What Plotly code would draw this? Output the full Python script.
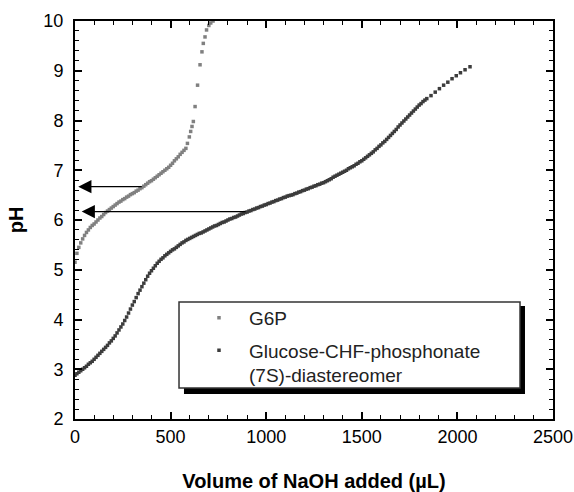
import plotly.graph_objects as go

# ---- data -------------------------------------------------------------
# G6P titration (volume uL, pH)
g6p_vol = [0, 10, 20, 30, 40, 50, 60, 70, 80, 90, 100, 110, 120, 130, 140, 150,
           160, 170, 180, 190, 200, 210, 220, 230, 240, 250, 260, 270, 280, 290,
           300, 310, 320, 330, 340, 350, 360, 370, 380, 390, 400, 410, 420, 430,
           440, 450, 460, 470, 480, 490, 500, 510, 520, 530, 540, 550, 560, 570,
           580, 588, 598, 605, 612, 619, 628, 641, 654, 664, 671, 680, 688, 700,
           710, 722]
g6p_ph = [5.15, 5.33, 5.45, 5.54, 5.62, 5.69, 5.75, 5.80, 5.85, 5.89, 5.92, 5.96,
          6.00, 6.04, 6.07, 6.11, 6.15, 6.18, 6.21, 6.24, 6.27, 6.30, 6.33, 6.36,
          6.38, 6.41, 6.43, 6.46, 6.48, 6.51, 6.53, 6.55, 6.58, 6.60, 6.63, 6.65,
          6.68, 6.71, 6.74, 6.77, 6.79, 6.82, 6.85, 6.88, 6.91, 6.94, 6.97, 7.00,
          7.03, 7.06, 7.10, 7.14, 7.19, 7.23, 7.27, 7.32, 7.36, 7.40, 7.44, 7.54,
          7.67, 7.78, 7.88, 7.98, 8.28, 8.71, 9.12, 9.38, 9.55, 9.68, 9.82, 9.91,
          9.96, 10.0]

# Glucose-CHF-phosphonate (7S)-diastereomer titration
dia_vol = list(range(0, 1850, 10)) + [1862, 1884, 1906, 1928, 1950, 1972, 1994,
                                      2016, 2040, 2066]
dia_ph = [2.88, 2.91, 2.94, 2.97, 3.00, 3.03, 3.06, 3.10, 3.13, 3.16, 3.20, 3.24,
          3.28, 3.32, 3.36, 3.40, 3.44, 3.48, 3.53, 3.57, 3.62, 3.67, 3.73, 3.79,
          3.85, 3.91, 3.98, 4.05, 4.13, 4.21, 4.29, 4.36, 4.44, 4.52, 4.59, 4.66,
          4.73, 4.80, 4.87, 4.93, 4.98, 5.03, 5.08, 5.13, 5.17, 5.21, 5.24, 5.28,
          5.31, 5.34, 5.37, 5.40, 5.42, 5.45, 5.48, 5.51, 5.54, 5.56, 5.59, 5.61,
          5.63, 5.65, 5.67, 5.69, 5.71, 5.73, 5.74, 5.76, 5.78, 5.80, 5.82, 5.84,
          5.86, 5.88, 5.89, 5.91, 5.93, 5.95, 5.96, 5.98, 6.00, 6.02, 6.03, 6.05,
          6.06, 6.08, 6.10, 6.12, 6.13, 6.15, 6.16, 6.18, 6.19, 6.21, 6.22, 6.24,
          6.25, 6.27, 6.28, 6.30, 6.31, 6.33, 6.34, 6.36, 6.37, 6.39, 6.40, 6.42,
          6.43, 6.45, 6.46, 6.48, 6.49, 6.50, 6.51, 6.53, 6.54, 6.56, 6.57, 6.59,
          6.60, 6.62, 6.63, 6.65, 6.66, 6.68, 6.69, 6.71, 6.72, 6.74, 6.75, 6.77,
          6.79, 6.81, 6.83, 6.86, 6.88, 6.90, 6.92, 6.94, 6.96, 6.98, 7.00, 7.03,
          7.05, 7.07, 7.09, 7.12, 7.14, 7.17, 7.19, 7.22, 7.25, 7.28, 7.31, 7.34,
          7.37, 7.41, 7.44, 7.48, 7.51, 7.55, 7.58, 7.62, 7.66, 7.70, 7.74, 7.78,
          7.82, 7.87, 7.91, 7.95, 7.99, 8.03, 8.07, 8.11, 8.15, 8.19, 8.23, 8.27,
          8.31, 8.34, 8.38, 8.41, 8.44,
          8.50, 8.57, 8.64, 8.71, 8.77, 8.84, 8.90, 8.96, 9.02, 9.08]

# pKa arrows: (pH, volume where arrow starts on curve, volume of arrow tip)
arrow_ph = [6.67, 6.17]
arrow_from = [357, 900]
arrow_to = [17, 35]

series_names = ["G6P", "Glucose-CHF-phosphonate<br>(7S)-diastereomer"]
series_colors = ["#808080", "#3c3c3c"]

x_ticks = [0, 500, 1000, 1500, 2000, 2500]
y_ticks = [2, 3, 4, 5, 6, 7, 8, 9, 10]

# ---- figure -----------------------------------------------------------
FONT = "Arial, Liberation Sans, Helvetica, sans-serif"

fig = go.Figure()
fig.add_trace(go.Scatter(x=g6p_vol, y=g6p_ph, mode="markers", name=series_names[0],
                         legendgroup="a",
                         marker=dict(symbol="square", size=3.5, color=series_colors[0])))
fig.add_trace(go.Scatter(x=dia_vol, y=dia_ph, mode="markers", name=series_names[1],
                         legendgroup="b",
                         marker=dict(symbol="square", size=3.5, color=series_colors[1])))

for ph, x0, x1 in zip(arrow_ph, arrow_from, arrow_to):
    fig.add_annotation(x=x1, y=ph, ax=x0, ay=ph, axref="x", ayref="y",
                       xref="x", yref="y", text="", showarrow=True,
                       arrowhead=2, arrowsize=2.2, arrowwidth=1.2,
                       arrowcolor="black", standoff=0)

# legend frame with drop shadow
fig.add_shape(type="rect", xref="paper", yref="paper",
              x0=0.228, x1=0.9414, y0=0.0628, y1=0.2839,
              fillcolor="black", line=dict(width=0), layer="above")
fig.add_shape(type="rect", xref="paper", yref="paper",
              x0=0.2176, x1=0.931, y0=0.0779, y1=0.294,
              fillcolor="white", line=dict(color="#333333", width=1.5), layer="above")

axis_common = dict(
    showline=True, linecolor="black", linewidth=2, mirror="ticks",
    ticks="inside", ticklen=7, tickwidth=1.5, tickcolor="black",
    showgrid=False, zeroline=False, automargin=False,
    tickfont=dict(family=FONT, size=18, color="black"),
)

fig.update_xaxes(range=[0, 2500], tickvals=x_ticks,
                 minor=dict(dtick=100, ticks="inside", ticklen=4, tickwidth=1.2,
                            tickcolor="black"),
                 title=dict(text="<b>Volume of NaOH added (µL)</b>", standoff=30,
                            font=dict(family=FONT, size=20, color="black")),
                 **axis_common)
fig.update_yaxes(range=[2, 10], tickvals=y_ticks, ticklabelstandoff=6,
                 minor=dict(dtick=0.2, ticks="inside", ticklen=4, tickwidth=1.2,
                            tickcolor="black"),
                 title=dict(text="<b>pH</b>", standoff=14,
                            font=dict(family=FONT, size=20, color="black")),
                 **axis_common)

fig.update_layout(
    width=574, height=492,
    margin=dict(l=75, r=21, t=21, b=73),
    plot_bgcolor="white", paper_bgcolor="white",
    font=dict(family=FONT, color="black"),
    showlegend=True,
    legend=dict(x=0.2385, y=0.302, xanchor="left", yanchor="top",
                bgcolor="rgba(0,0,0,0)", borderwidth=0,
                font=dict(family=FONT, size=19, color="#222222"),
                itemwidth=50, valign="top", traceorder="grouped",
                tracegroupgap=5),
)

fig.write_html("out.html",
               config={"displayModeBar": False},
               post_script="document.body.style.margin='0px';"
                           "document.body.style.overflow='hidden';")
